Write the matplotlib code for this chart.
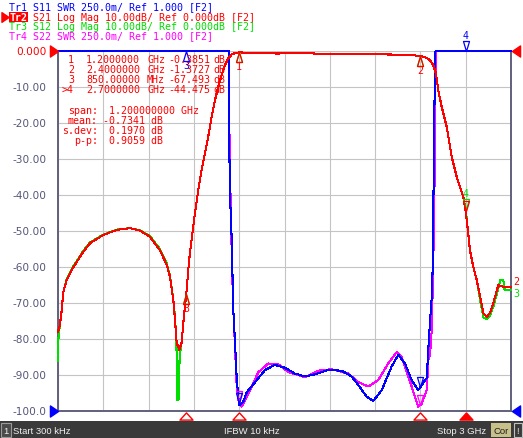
import numpy as np
import matplotlib
matplotlib.use("Agg")
import matplotlib.pyplot as plt
import matplotlib.transforms as mtransforms
from matplotlib.path import Path
from matplotlib.patches import Rectangle

# stimulus range (GHz)
f_start, f_stop = 0.0003, 3.0

# Tr2 S21 Log Mag (dB)
s21_f = [0.0003, 0.013, 0.025, 0.035, 0.058, 0.091, 0.124, 0.168, 0.212, 0.300,
         0.389, 0.477, 0.543, 0.609, 0.675, 0.720, 0.742, 0.764, 0.775, 0.786,
         0.803, 0.819, 0.830, 0.841, 0.850, 0.863, 0.874, 0.885, 0.907, 0.929,
         0.951, 0.973, 0.995, 1.018, 1.040, 1.062, 1.084, 1.106, 1.128, 1.150,
         1.170, 1.200, 1.30, 1.45, 1.60, 1.75, 1.90, 2.05, 2.15, 2.25,
         2.33, 2.40, 2.44, 2.463, 2.485, 2.503, 2.518, 2.541, 2.574, 2.607,
         2.640, 2.684, 2.700, 2.717, 2.728, 2.750, 2.773, 2.795, 2.817, 2.839,
         2.861, 2.883, 2.916, 2.949, 3.0]
s21_db = [-78, -76, -72, -67, -63.6, -60.8, -58.6, -55.8, -53.4, -51.1,
          -49.7, -49.2, -49.9, -51.6, -55.3, -59.4, -62.7, -69.2, -74.7, -81,
          -83, -81, -75.6, -71, -67.5, -60.8, -56, -52.5, -45.1, -38.6,
          -33.1, -28.4, -23.8, -18.2, -13.6, -9.9, -6.7, -3.9, -2.0, -1.0,
          -0.6, -0.39, -0.55, -0.7, -0.6, -0.75, -0.7, -0.8, -0.95, -1.0,
          -1.1, -1.37, -1.9, -2.5, -3.9, -6.2, -10.8, -15.5, -21, -29.3,
          -34.9, -40.5, -44.5, -50.7, -55.3, -59.9, -63.6, -68.2, -72.8, -73.8,
          -72.8, -70, -65, -65.5, -65.5]

# Tr3 S12 Log Mag (dB)
s12_f = [0.0003, 0.004, 0.013, 0.025, 0.035, 0.058, 0.091, 0.124, 0.168, 0.212,
         0.300, 0.389, 0.477, 0.543, 0.609, 0.675, 0.720, 0.742, 0.764, 0.775,
         0.784, 0.790, 0.794, 0.798, 0.803, 0.809, 0.819, 0.830, 0.841, 0.850,
         0.863, 0.874, 0.885, 0.907, 0.929, 0.951, 0.973, 0.995, 1.018, 1.040,
         1.062, 1.084, 1.106, 1.128, 1.150, 1.170, 1.200, 1.30, 1.45, 1.60,
         1.75, 1.90, 2.05, 2.15, 2.25, 2.33, 2.40, 2.44, 2.463, 2.485,
         2.503, 2.518, 2.541, 2.574, 2.607, 2.640, 2.684, 2.700, 2.717, 2.728,
         2.750, 2.773, 2.795, 2.817, 2.839, 2.861, 2.883, 2.916, 2.930, 2.949,
         2.958, 3.0]
s12_db = [-86, -79, -76, -72, -67, -63.3, -60.5, -58.4, -55.5, -53.2,
          -51.0, -49.6, -49.2, -49.8, -51.4, -55.0, -59.0, -62.5, -69.0, -74.0,
          -80, -97, -86, -97, -88, -84, -81, -75.6, -71, -67.5,
          -60.8, -56, -52.5, -45.1, -38.6, -33.1, -28.4, -23.8, -18.2, -13.6,
          -9.9, -6.7, -3.9, -2.0, -1.0, -0.6, -0.39, -0.55, -0.7, -0.6,
          -0.75, -0.7, -0.8, -0.95, -1.0, -1.1, -1.37, -1.9, -2.5, -3.9,
          -6.2, -10.8, -15.5, -21, -29.3, -34.9, -40.5, -44.0, -50.7, -55.3,
          -59.9, -63.6, -69.0, -74.0, -74.5, -73.5, -71, -66, -63.6, -63.6,
          -66.4, -66.4]

# Tr1 S11 SWR
s11_f = [0.0003, 1.130, 1.135, 1.139, 1.150, 1.161, 1.172, 1.183, 1.194, 1.202,
         1.227, 1.250, 1.305, 1.371, 1.437, 1.503, 1.569, 1.636, 1.702, 1.790,
         1.879, 1.945, 1.989, 2.044, 2.088, 2.144, 2.210, 2.254, 2.298, 2.342,
         2.386, 2.419, 2.442, 2.452, 2.463, 2.475, 2.481, 2.485, 2.490, 2.497,
         2.502, 3.0]
s11_swr = [8.0, 4.0, 2.81, 2.51, 2.21, 1.70, 1.49, 1.24, 1.10, 1.04,
           1.065, 1.13, 1.20, 1.285, 1.32, 1.30, 1.26, 1.24, 1.255, 1.285,
           1.28, 1.24, 1.18, 1.10, 1.07, 1.145, 1.31, 1.39, 1.33, 1.215,
           1.145, 1.195, 1.23, 1.42, 1.61, 1.79, 1.98, 2.35, 2.81, 3.49,
           4.0, 8.0]

# Tr4 S22 SWR
s22_f = [0.0003, 1.131, 1.136, 1.146, 1.159, 1.172, 1.182, 1.194, 1.216, 1.250,
         1.283, 1.327, 1.393, 1.459, 1.525, 1.636, 1.724, 1.812, 1.922, 1.989,
         2.055, 2.121, 2.187, 2.243, 2.276, 2.320, 2.364, 2.386, 2.408, 2.442,
         2.457, 2.463, 2.475, 2.485, 2.497, 2.501, 2.506, 3.0]
s22_swr = [8.0, 4.0, 2.9, 2.3, 1.75, 1.45, 1.2, 1.08, 1.03, 1.10,
           1.17, 1.27, 1.33, 1.325, 1.27, 1.235, 1.28, 1.29, 1.26, 1.20,
           1.17, 1.215, 1.33, 1.41, 1.375, 1.24, 1.10, 1.03, 1.05, 1.145,
           1.42, 1.38, 1.56, 2.0, 2.81, 3.49, 4.0, 8.0]

# markers
mk_num = ['1', '2', '3', '4']
mk_f = [1.2, 2.4, 0.85, 2.7]
mk_freq_txt = ['1.2000000', '2.4000000', '850.00000', '2.7000000']
mk_unit = ['GHz', 'GHz', 'MHz', 'GHz']
mk_val = ['-0.3851', '-1.3727', '-67.493', '-44.475']
active_mk = '4'

stat_names = ['span:', 'mean:', 's.dev:', 'p-p:']
stat_vals = [' 1.200000000 GHz', '-0.7341 dB', ' 0.1970 dB', ' 0.9059 dB']

y_ticks = [0, -10, -20, -30, -40, -50, -60, -70, -80, -90, -100]
y_labels = ['0.000', '-10.00', '-20.00', '-30.00', '-40.00', '-50.00',
            '-60.00', '-70.00', '-80.00', '-90.00', '-100.0']

headers = [('Tr1 S11 SWR 250.0m/ Ref 1.000 [F2]', '#0000ff'),
           ('    S21 Log Mag 10.00dB/ Ref 0.000dB [F2]', '#ff0000'),
           ('Tr3 S12 Log Mag 10.00dB/ Ref 0.000dB [F2]', '#00dd00'),
           ('Tr4 S22 SWR 250.0m/ Ref 1.000 [F2]', '#ff00ff')]

BLUE, RED, GREEN, MAG = '#0000ff', '#ff0000', '#00e000', '#ff00ff'
MONO = 'DejaVu Sans Mono'

W, H = 523, 438
X0, X1, Y0, Y1 = 58, 511, 51, 411   # graticule box in pixels


def fx(x):
    return x / W


def fy(y):
    return 1 - y / H


def swr_screen(swr):
    # SWR 250m/div, ref 1.000 at bottom line, clamp to screen like the VNA
    return np.clip((np.asarray(swr) - 1.0) / 0.25 * 10 - 100, -100, 0)


fig = plt.figure(figsize=(W / 100, H / 100), dpi=100)
fig.patch.set_facecolor('white')
ax = fig.add_axes([fx(X0), fy(Y1), (X1 - X0) / W, (Y1 - Y0) / H])
ax.set_xlim(f_start, f_stop)
ax.set_ylim(-100, 0)
ax.set_xticks(np.linspace(f_start, f_stop, 11))
ax.set_yticks(y_ticks)
ax.set_yticklabels(y_labels)
ax.tick_params(axis='both', length=0)
ax.tick_params(axis='x', labelbottom=False)
ax.tick_params(axis='y', pad=8, labelsize=7.6, labelcolor='#55557a')
ax.get_yticklabels()[0].set_color(RED)
ax.grid(True, color='#c4c4c4', lw=0.8)
for s in ['left', 'bottom', 'right']:
    ax.spines[s].set_color('#60607e')
    ax.spines[s].set_linewidth(1.4)
ax.spines['top'].set_visible(False)

# traces (no antialiasing, like the instrument screen)
s11_scr = swr_screen(s11_swr)
s22_scr = swr_screen(s22_swr)
tkw = dict(lw=0.75, clip_on=False, antialiased=False)
ax.plot(s22_f, s22_scr, color=MAG, zorder=3, **tkw)
ax.plot(s11_f, s11_scr, color=BLUE, zorder=4, **tkw)
ax.plot(s12_f, s12_db, color=GREEN, zorder=5, **tkw)
ax.plot(s21_f, s21_db, color=RED, zorder=6, **tkw)

# marker symbols
tri_up = Path([(0, 1), (-0.6, -1), (0.6, -1), (0, 1)],
              [Path.MOVETO, Path.LINETO, Path.LINETO, Path.CLOSEPOLY])
tri_dn = Path([(0, -1), (-0.6, 1), (0.6, 1), (0, -1)],
              [Path.MOVETO, Path.LINETO, Path.LINETO, Path.CLOSEPOLY])


def put_marker(f, y, color, num, above=False, z=7, show_num=True):
    dy = 5 if above else -5
    tr = mtransforms.offset_copy(ax.transData, fig=fig, x=0, y=dy, units='dots')
    ax.plot([f], [y], transform=tr, marker=tri_dn if above else tri_up, ms=7.2,
            mfc='none', mec=color, mew=0.9, ls='none', clip_on=False, zorder=z)
    if show_num:
        tr2 = mtransforms.offset_copy(ax.transData, fig=fig, x=0,
                                      y=(15 if above else -15), units='dots')
        ax.text(f, y, num, transform=tr2, ha='center', va='center', color=color,
                family=MONO, fontsize=7.2, zorder=z)


for n, f in zip(mk_num, mk_f):
    act = n == active_mk
    put_marker(f, np.interp(f, s12_f, s12_db), GREEN, n, above=act, z=7, show_num=act)
    put_marker(f, np.interp(f, s21_f, s21_db), RED, n, above=act, z=8, show_num=not act)
    yb = float(np.interp(f, s11_f, s11_scr))
    ym = float(np.interp(f, s22_f, s22_scr))
    if yb >= 0:
        put_marker(f, yb, BLUE, n, above=act, z=8)
    else:
        put_marker(f, ym, MAG, n, above=True, z=7, show_num=False)
        put_marker(f, yb, BLUE, n, above=True, z=8, show_num=False)

# stimulus markers under the graticule
tri_flat = Path([(0, 0.55), (-1, -0.55), (1, -0.55), (0, 0.55)],
                [Path.MOVETO, Path.LINETO, Path.LINETO, Path.CLOSEPOLY])
btm = mtransforms.blended_transform_factory(ax.transData, ax.transAxes)
btm = mtransforms.offset_copy(btm, fig=fig, x=0, y=-4.5, units='dots')
for n, f in zip(mk_num, mk_f):
    act = n == active_mk
    ax.plot([f], [0], transform=btm, marker=tri_flat, ms=9.4, ls='none',
            mec=RED, mfc=RED if act else 'none', mew=1, clip_on=False, zorder=8)

# reference level arrows
tri_r = Path([(0.73, 0), (-0.73, 1), (-0.73, -1), (0.73, 0)],
             [Path.MOVETO, Path.LINETO, Path.LINETO, Path.CLOSEPOLY])
tri_l = Path([(-0.73, 0), (0.73, 1), (0.73, -1), (-0.73, 0)],
             [Path.MOVETO, Path.LINETO, Path.LINETO, Path.CLOSEPOLY])
left_tr = mtransforms.offset_copy(ax.transAxes, fig=fig, x=-4, y=0, units='dots')
right_tr = mtransforms.offset_copy(ax.transAxes, fig=fig, x=5, y=0, units='dots')
for yy, c in [(1, RED), (0, BLUE)]:
    ax.plot([0], [yy], transform=left_tr, marker=tri_r, ms=8, color=c,
            ls='none', clip_on=False, zorder=9)
    ax.plot([1], [yy], transform=right_tr, marker=tri_l, ms=8, color=c,
            ls='none', clip_on=False, zorder=9)

# trace numbers at right edge
for n, c, dy in [('2', RED, 5), ('3', GREEN, -4)]:
    tr = mtransforms.offset_copy(ax.transData, fig=fig, x=5, y=dy, units='dots')
    yv = s21_db[-1] if n == '2' else s12_db[-1]
    ax.text(f_stop, yv, n, transform=tr, color=c, family=MONO, fontsize=7.2,
            ha='center', va='center', clip_on=False)

# header lines
hdr_base = [10.3, 20.7, 30.0, 39.3]
for (txt, c), yb in zip(headers, hdr_base):
    fig.text(fx(9), fy(yb), txt, color=c, family=MONO, fontsize=7.2, va='baseline')
fig.patches.append(Rectangle((fx(8.5), fy(22)), 19 / W, 10 / H, transform=fig.transFigure,
                             facecolor=RED, edgecolor='none'))
fig.text(fx(9), fy(20.7), 'Tr2', color='white', family=MONO, fontsize=7.2,
         va='baseline', weight='bold')
fig.lines.append(plt.Line2D([fx(4.5)], [fy(16.7)], transform=fig.transFigure,
                            marker=tri_r, ms=7, color=RED, ls='none'))

# marker readout
mk_base = [62.7, 72.7, 83.3, 93.3]
for n, ft, u, v, yb in zip(mk_num, mk_freq_txt, mk_unit, mk_val, mk_base):
    lab = '>' + n if n == active_mk else n
    kw = dict(color=RED, family=MONO, fontsize=7.2, va='baseline')
    fig.text(fx(74), fy(yb), lab, ha='right', **kw)
    fig.text(fx(86), fy(yb), ft, **kw)
    fig.text(fx(147), fy(yb), u, **kw)
    fig.text(fx(210), fy(yb), v, ha='right', **kw)
    fig.text(fx(213), fy(yb), 'dB', **kw)

st_base = [114, 124.3, 134, 144]
for nm, v, yb in zip(stat_names, stat_vals, st_base):
    kw = dict(color=RED, family=MONO, fontsize=7.2, va='baseline')
    fig.text(fx(98), fy(yb), nm, ha='right', **kw)
    fig.text(fx(103), fy(yb), v, **kw)

# status bar
fig.patches.append(Rectangle((0, 0), 1, 17 / H, transform=fig.transFigure,
                             facecolor='#3a3a3a', edgecolor='none'))
SANS = 'Liberation Sans'
fig.patches.append(Rectangle((fx(0.5), fy(437)), 10 / W, 14 / H, transform=fig.transFigure,
                             facecolor='#4a4a4a', edgecolor='#9a9a9a', lw=0.8))
fig.text(fx(5.5), fy(434), '1', color='#f0f0f0', family=SANS, fontsize=6.8,
         ha='center', va='baseline')
fig.text(fx(13), fy(434), 'Start 300 kHz', color='#f0f0f0', family=SANS,
         fontsize=6.8, va='baseline')
fig.text(fx(224), fy(434), 'IFBW 10 kHz', color='#f0f0f0', family=SANS,
         fontsize=6.8, va='baseline')
fig.text(fx(437), fy(434), 'Stop 3 GHz', color='#f0f0f0', family=SANS,
         fontsize=6.8, va='baseline')
fig.patches.append(Rectangle((fx(491), fy(437)), 20 / W, 14 / H, transform=fig.transFigure,
                             facecolor='#c8c088', edgecolor='none'))
fig.text(fx(501), fy(434), 'Cor', color='#202020', family=SANS, fontsize=6.8,
         ha='center', va='baseline')
fig.patches.append(Rectangle((fx(513.5), fy(437)), 8 / W, 14 / H, transform=fig.transFigure,
                             facecolor='#3a3a3a', edgecolor='#c0c0c0', lw=0.8))
fig.text(fx(517.5), fy(434), '!', color='#f0f0f0', family=SANS, fontsize=6.8,
         ha='center', va='baseline')

fig.savefig('out.png', dpi=100)
